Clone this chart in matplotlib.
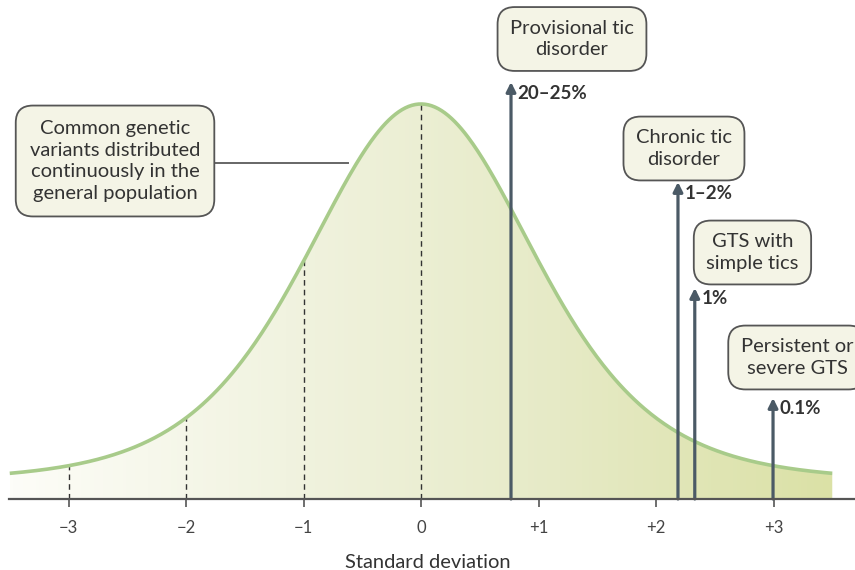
import numpy as np
import matplotlib.pyplot as plt
from matplotlib.colors import LinearSegmentedColormap

plt.rcParams['font.family'] = ['Lato', 'DejaVu Sans']

# --- данные ---
tick_pos = [-3, -2, -1, 0, 1, 2, 3]
tick_labels = ['\u22123', '\u22122', '\u22121', '0', '+1', '+2', '+3']
dashed_at = [-3, -2, -1, 0]

# колокол: база + пик * t-распределение
curve_base = 18
curve_peak = 377
curve_df = 6

disorders = ['Provisional tic\ndisorder', 'Chronic tic\ndisorder',
             'GTS with\nsimple tics', 'Persistent or\nsevere GTS']
prevalence = ['20\u201325%', '1\u20132%', '1%', '0.1%']
arrow_sd = [0.766, 2.187, 2.33, 2.996]
arrow_top = [417, 317, 211, 101]

common_text = 'Common genetic\nvariants distributed\ncontinuously in the\ngeneral population'


def bell(x):
    return curve_base + curve_peak * (1 + x ** 2 / curve_df) ** (-(curve_df + 1) / 2)


fig = plt.figure(figsize=(8.55, 5.7), dpi=100)
ax = fig.add_axes([0, 71 / 570, 1, 499 / 570])
ax.set_xlim(-421 / 117.5, 434 / 117.5)
ax.set_ylim(0, 499)

# градиентная заливка под кривой
x = np.linspace(-3.5, 3.5, 500)
y = bell(x)
cmap = LinearSegmentedColormap.from_list(
    'olive', ['#fdfdf8', '#f1f3e0', '#e6eac6', '#dbe1a6'])
grad = np.linspace(0, 1, 256).reshape(1, -1)
poly = ax.fill_between(x, 0, y, color='none', lw=0)
img = ax.imshow(grad, cmap=cmap, aspect='auto', extent=[-3.5, 3.5, 0, 499],
                origin='lower', zorder=1)
img.set_clip_path(poly.get_paths()[0], transform=ax.transData)
ax.plot(x, y, color='#a8cb8a', lw=2.6, zorder=3, solid_capstyle='butt')

# пунктир до кривой
for xd in dashed_at:
    ax.plot([xd, xd], [0, bell(xd)], color='#333333', lw=1,
            dashes=(4, 3), zorder=2)

# оси
for s in ['top', 'right', 'left']:
    ax.spines[s].set_visible(False)
ax.spines['bottom'].set_bounds(-3.51, 3.8)
ax.spines['bottom'].set_color('#555555')
ax.spines['bottom'].set_linewidth(1.6)
ax.spines['bottom'].set_zorder(5)
ax.set_yticks([])
ax.set_xticks(tick_pos, tick_labels)
ax.tick_params(axis='x', direction='out', length=6, width=1.2,
               color='#555555', labelsize=12, labelcolor='#444444', pad=9)
ax.set_xlabel('Standard deviation', fontsize=14.5, color='#333333', labelpad=13)
ax.patch.set_alpha(0)

box = dict(boxstyle='round,pad=0.62,rounding_size=0.85', fc='#f4f4e6',
           ec='#555555', lw=1.3)
arrow_col = '#4b5a66'

# стрелки и подписи
box_xy = [(1.285, 460), (2.238, 350.5), (2.821, 246.5), (3.2, 141.5)]
for name, pct, xa, top, (bx, by) in zip(disorders, prevalence, arrow_sd,
                                       arrow_top, box_xy):
    ax.annotate('', xy=(xa, top), xytext=(xa, 0),
                arrowprops=dict(arrowstyle='-|>', color=arrow_col, lw=2.3,
                                mutation_scale=14, shrinkA=0, shrinkB=0),
                zorder=4)
    ax.text(xa + 0.055, top - 11, pct, fontsize=13.5, fontweight='bold',
            color='#333333', ha='left', va='center', zorder=6)
    ax.text(bx, by, name, fontsize=14.5, color='#333333', ha='center',
            va='center', linespacing=1.35, bbox=box, zorder=6, clip_on=False)

# общая подпись и выноска
ax.plot([-2.51, -0.62], [336, 336], color='#666666', lw=1.4, zorder=2)
ax.text(-2.604, 338, common_text, fontsize=14.5, color='#333333', ha='center',
        va='center', linespacing=1.35,
        bbox=dict(box, boxstyle='round,pad=0.7,rounding_size=0.85'), zorder=6)

fig.savefig('out.png', dpi=100)
